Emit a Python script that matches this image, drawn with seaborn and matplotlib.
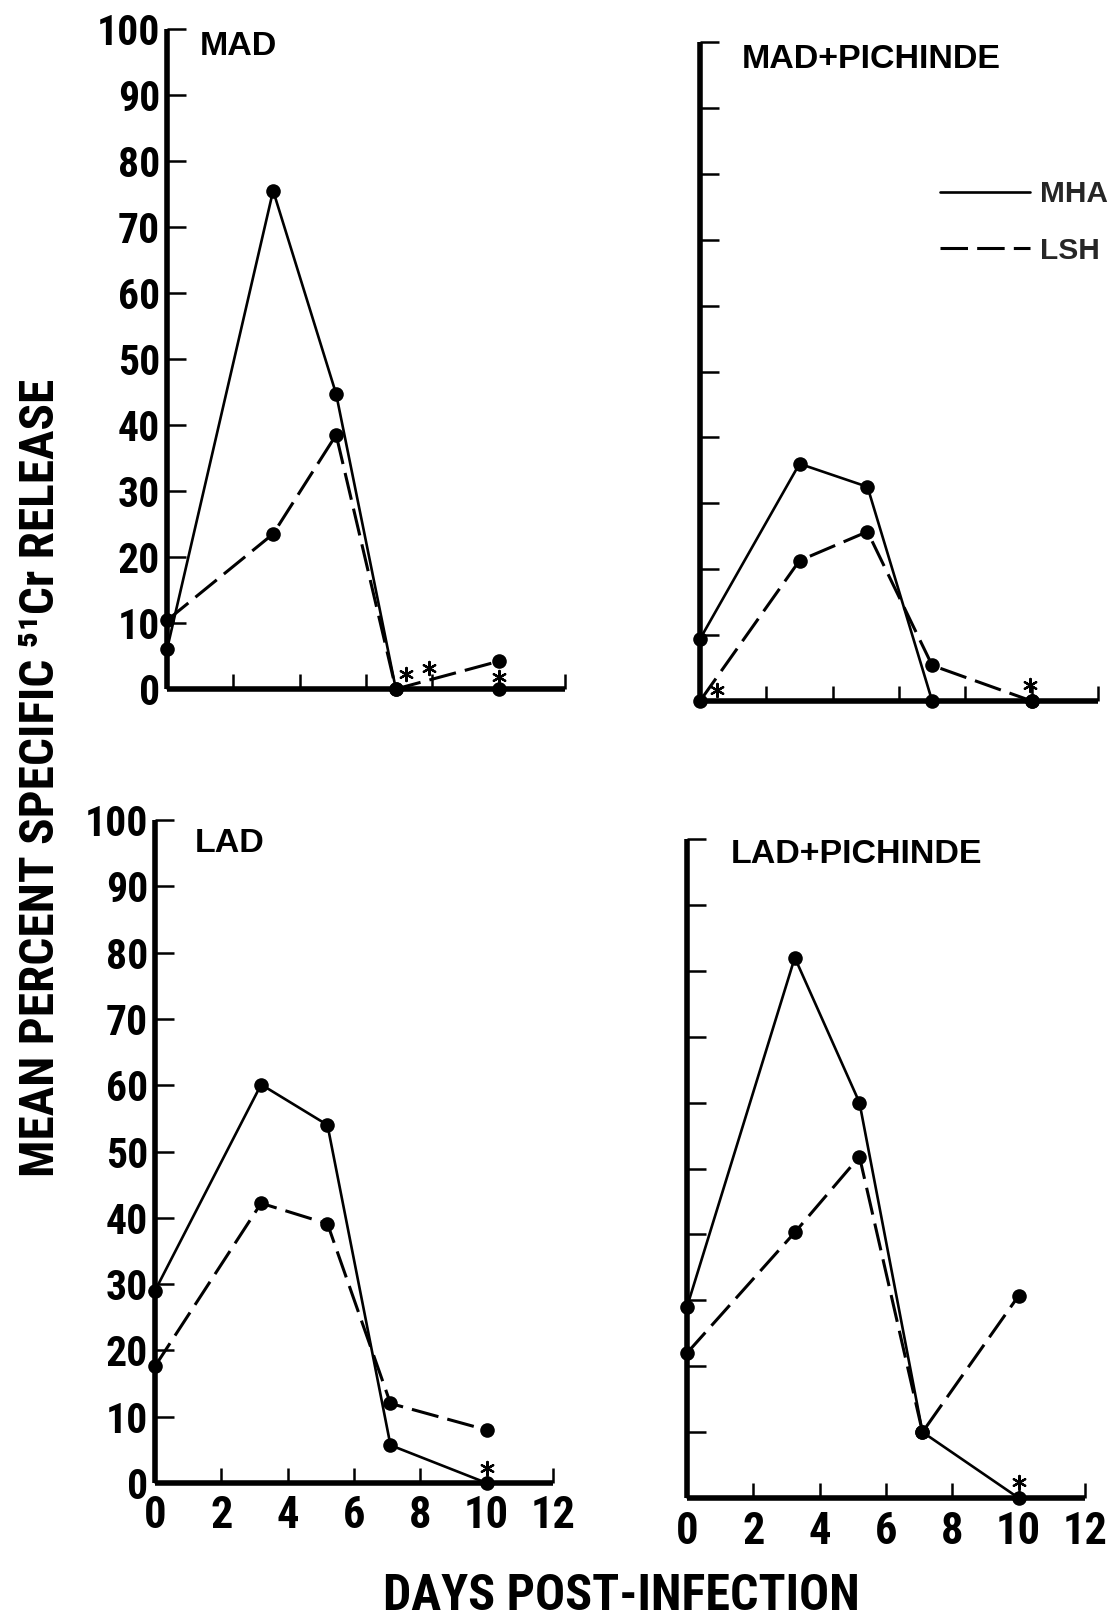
import matplotlib
matplotlib.use("Agg")
import matplotlib.pyplot as plt
from matplotlib.lines import Line2D
import pandas as pd
import seaborn as sns

# Days post-infection at which each panel was sampled
days_mad = [0, 3.2, 5.1, 6.9, 10]
days_mad_pich = [0, 3.0, 5.05, 7.0, 10]
days_lad = [0, 3.2, 5.2, 7.1, 10]
days_lad_pich = [0, 3.25, 5.2, 7.1, 10]

# Mean percent specific 51Cr release, MHA (solid) and LSH (dashed) targets
mha_mad = [6, 75.5, 44.7, 0, 0]
lsh_mad = [10.4, 23.5, 38.5, 0, 4.2]
mha_mad_pich = [9.4, 36, 32.5, 0, 0]
lsh_mad_pich = [0, 21.3, 25.7, 5.4, 0]
mha_lad = [29, 60.1, 54, 5.7, 0]
lsh_lad = [17.6, 42.2, 39.1, 12, 8]
mha_lad_pich = [29, 82, 60, 10, 0]
lsh_lad_pich = [22, 40.3, 51.8, 10, 30.7]

# Asterisk flags (day, value)
stars_mad = ([7.2, 7.9, 10.0], [2.2, 3.2, 1.8])
stars_mad_pich = ([0.5, 9.95], [1.6, 2.5])
stars_lad = ([10.0], [2.2])
stars_lad_pich = ([10.0], [2.4])

panel_titles = ["MAD", "MAD+PICHINDE", "LAD", "LAD+PICHINDE"]
y_ticks = list(range(0, 101, 10))
x_ticks = [0, 2, 4, 6, 8, 10, 12]
x_tick_labels = ["0", "2", "4", "6", "8", "10", "12"]
series_names = ["MHA", "LSH"]

sns.set_theme(style="white")
plt.rcParams["font.family"] = ["Liberation Sans", "DejaVu Sans"]

NARROW = ["Roboto Condensed", "Archivo Narrow", "Liberation Sans", "DejaVu Sans"]

fig = plt.figure(figsize=(11.13, 16.2), dpi=100)
fig.patch.set_facecolor("white")

W = 398 / 1113
rects = [
    (167 / 1113, 1 - 689 / 1620, W, 660 / 1620),
    (700 / 1113, 1 - 701 / 1620, W, 659 / 1620),
    (155 / 1113, 1 - 1483 / 1620, W, 663 / 1620),
    (687 / 1113, 1 - 1498 / 1620, W, 659 / 1620),
]

panels = [
    (days_mad, mha_mad, lsh_mad, stars_mad),
    (days_mad_pich, mha_mad_pich, lsh_mad_pich, stars_mad_pich),
    (days_lad, mha_lad, lsh_lad, stars_lad),
    (days_lad_pich, mha_lad_pich, lsh_lad_pich, stars_lad_pich),
]
title_pos = [(1.0, 97.3), (1.27, 97.3), (1.2, 96.5), (1.33, 97.7)]

DASH = (9, 3)

for i, (rect, (days, mha, lsh, stars)) in enumerate(zip(rects, panels)):
    ax = fig.add_axes(rect)
    df = pd.DataFrame({
        "day": list(days) + list(days),
        "release": list(mha) + list(lsh),
        "series": [series_names[0]] * len(days) + [series_names[1]] * len(days),
    })
    sns.lineplot(
        data=df, x="day", y="release", style="series",
        dashes={"MHA": "", "LSH": DASH},
        markers={"MHA": "o", "LSH": "o"},
        color="black", markersize=10.5, markeredgewidth=0,
        linewidth=2.2, legend=False, ax=ax, clip_on=False, zorder=3,
        estimator=None, sort=False,
    )
    # thinner solid line than the dashed one
    for ln in ax.lines:
        if ln.get_linestyle() == "-":
            ln.set_linewidth(1.9)
    ax.scatter(stars[0], stars[1], marker=(6, 2, 0), s=90, color="black",
               linewidths=1.6, clip_on=False, zorder=4)

    ax.set_xlim(0, 12)
    ax.set_ylim(0, 100)
    ax.set_xlabel("")
    ax.set_ylabel("")
    ax.set_facecolor("white")
    for side in ["top", "right"]:
        ax.spines[side].set_visible(False)
    for side in ["left", "bottom"]:
        ax.spines[side].set_linewidth(4)
        ax.spines[side].set_color("black")
        ax.spines[side].set_capstyle("butt")

    ax.set_yticks(y_ticks)
    ax.set_xticks(x_ticks)
    ax.tick_params(axis="y", which="both", left=True, right=False,
                   direction="in", length=14, width=1.8, color="black", pad=5)
    ax.tick_params(axis="x", which="both", bottom=True, top=False,
                   direction="in", length=11, width=1.8, color="black", pad=9)
    if i % 2 == 0:
        ax.set_yticklabels([str(v) for v in y_ticks], family=NARROW,
                           fontweight="bold", fontsize=30, color="black")
    else:
        ax.set_yticklabels([])
    if i >= 2:
        ax.set_xticklabels(x_tick_labels, family=NARROW,
                           fontweight="bold", fontsize=32, color="black")
    else:
        ax.set_xticklabels([])

    tx, ty = title_pos[i]
    ax.text(tx, ty, panel_titles[i], fontsize=24.5, fontweight="bold",
            ha="left", va="center", color="black")

    if i == 1:
        handles = [
            Line2D([], [], color="black", linewidth=1.9, linestyle="-"),
            Line2D([], [], color="black", linewidth=2.2, dashes=DASH),
        ]
        ax.legend(handles, series_names, loc="upper left",
                  bbox_to_anchor=(0.603, 0.79), frameon=False,
                  borderaxespad=0, borderpad=0, handlelength=3.0,
                  handletextpad=0.35, labelspacing=0.95,
                  prop={"weight": "bold", "size": 21.5})

fig.text(41 / 1113, 1 - 778 / 1620,
         "MEAN PERCENT SPECIFIC \u2075\u00b9Cr RELEASE",
         rotation=90, ha="center", va="center", fontsize=35.5,
         fontweight="bold", family=NARROW, color="black")
fig.text(621 / 1113, 1 - 1597 / 1620, "DAYS POST-INFECTION",
         ha="center", va="center", fontsize=36, fontweight="bold",
         family=NARROW, color="black")

fig.savefig("out.png", dpi=100, facecolor="white")
